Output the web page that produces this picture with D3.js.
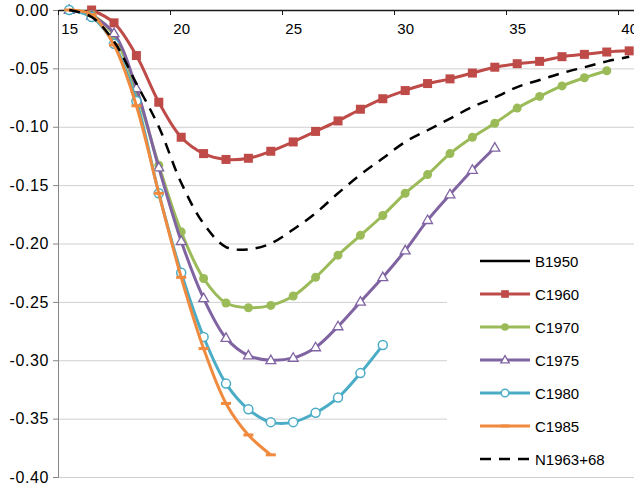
<!DOCTYPE html>
<html>
<head>
<meta charset="utf-8">
<script src="https://cdn.jsdelivr.net/npm/d3@7"></script>
<style>
  body { margin: 0; background: #fff; }
  svg text { font-family: "Liberation Sans", Arial, sans-serif; fill: #000; }
</style>
</head>
<body>
<svg id="chart" width="634" height="485"></svg>
<script>
// ages (categories) and series values, null = no point
const ages = [15, 16, 17, 18, 19, 20, 21, 22, 23, 24, 25, 26, 27, 28, 29, 30, 31, 32, 33, 34, 35, 36, 37, 38, 39, 40];
const b1950 = [];
const c1960 = [null, 0.000, -0.011, -0.039, -0.079, -0.109, -0.123, -0.128, -0.127, -0.121, -0.113, -0.104, -0.095,
  -0.085, -0.076, -0.069, -0.063, -0.059, -0.054, -0.049, -0.046, -0.044, -0.040, -0.038, -0.036, -0.035];
const c1970 = [0.000, -0.004, -0.022, -0.070, -0.133, -0.190, -0.230, -0.251, -0.255, -0.253, -0.245, -0.229, -0.210,
  -0.193, -0.176, -0.157, -0.141, -0.123, -0.109, -0.097, -0.084, -0.074, -0.065, -0.058, -0.052, null];
const c1975 = [0.000, -0.005, -0.020, -0.067, -0.135, -0.198, -0.247, -0.281, -0.296, -0.300, -0.298, -0.289, -0.271,
  -0.250, -0.229, -0.206, -0.180, -0.158, -0.137, -0.118, null, null, null, null, null, null];
const c1980 = [0.000, -0.006, -0.029, -0.078, -0.157, -0.225, -0.280, -0.320, -0.342, -0.353, -0.353, -0.345, -0.332,
  -0.311, -0.287, null, null, null, null, null, null, null, null, null, null, null];
const c1985 = [0.000, -0.004, -0.030, -0.082, -0.157, -0.229, -0.290, -0.337, -0.364, -0.381, null, null, null,
  null, null, null, null, null, null, null, null, null, null, null, null, null];
const n1963 = [0.000, -0.006, -0.027, -0.063, -0.100, -0.148, -0.183, -0.203, -0.205, -0.200, -0.188, -0.174, -0.157,
  -0.141, -0.127, -0.113, -0.103, -0.093, -0.083, -0.075, -0.066, -0.060, -0.054, -0.049, -0.044, -0.040];

const yTicks = [0, -0.05, -0.10, -0.15, -0.20, -0.25, -0.30, -0.35, -0.40];
const xLabels = [15, 20, 25, 30, 35, 40];
const xTickMarks = [14.5, 19.5, 24.5, 29.5, 34.5, 39.5];

const series = [
  { name: "B1950", values: b1950, color: "#000000", marker: "none" },
  { name: "C1960", values: c1960, color: "#be4b48", marker: "square" },
  { name: "C1970", values: c1970, color: "#9bbb59", marker: "dot" },
  { name: "C1975", values: c1975, color: "#8064a2", marker: "triangle" },
  { name: "C1980", values: c1980, color: "#4bacc6", marker: "circle" },
  { name: "C1985", values: c1985, color: "#f08a3e", marker: "dash" },
  { name: "N1963+68", values: n1963, color: "#000000", marker: "none", dashed: true }
];

const svg = d3.select("#chart");
const plotLeft = 58, plotTop = 10, plotBottom = 477;

const x = d3.scaleLinear().domain([14.5, 40.5]).range([plotLeft, plotLeft + 26 * 22.4]);
const y = d3.scaleLinear().domain([-0.40, 0]).range([plotBottom, plotTop]);

// gridlines
svg.append("g")
  .attr("transform", "translate(" + plotLeft + ",0)")
  .call(d3.axisLeft(y).tickValues(yTicks).tickSize(-(634 - plotLeft)).tickFormat(""))
  .call(g => g.select(".domain").remove())
  .selectAll("line").attr("stroke", "#d0d0d0");

// y axis
const yAxis = svg.append("g")
  .attr("transform", "translate(" + plotLeft + ",0)")
  .call(d3.axisLeft(y).tickValues(yTicks).tickSize(5).tickPadding(4).tickFormat(d => d.toFixed(2)));
yAxis.select(".domain").attr("stroke", "#868686");
yAxis.selectAll("line").attr("stroke", "#868686");
yAxis.selectAll("text").style("font-size", "16px").style("letter-spacing", "0.6px");

// x axis along 0 at the top
const xAxis = svg.append("g")
  .attr("transform", "translate(0," + plotTop + ")")
  .call(d3.axisBottom(x).tickValues(xTickMarks).tickSize(5).tickFormat("").tickSizeOuter(0));
xAxis.select(".domain").attr("stroke", "#1a1a1a").attr("stroke-width", 1.5);
xAxis.selectAll("line").attr("stroke", "#1a1a1a");

const xLab = svg.append("g")
  .attr("transform", "translate(0," + plotTop + ")")
  .call(d3.axisBottom(x).tickValues(xLabels).tickSize(0).tickPadding(13));
xLab.select(".domain").remove();
xLab.selectAll("text").style("font-size", "15px");

function drawMarker(g, type, color, cx, cy, s) {
  if (type === "square") {
    g.append("rect").attr("x", cx - 4.5 * s).attr("y", cy - 4.5 * s)
      .attr("width", 9 * s).attr("height", 9 * s).attr("fill", color);
  } else if (type === "dot") {
    g.append("circle").attr("cx", cx).attr("cy", cy).attr("r", 4.5 * s).attr("fill", color);
  } else if (type === "triangle") {
    g.append("path").attr("d", d3.symbol(d3.symbolTriangle, 42 * s * s)())
      .attr("transform", "translate(" + cx + "," + (cy + 0.5) + ")")
      .attr("fill", "#fff").attr("stroke", color).attr("stroke-width", 1.3);
  } else if (type === "circle") {
    g.append("circle").attr("cx", cx).attr("cy", cy).attr("r", 4.5 * s)
      .attr("fill", "#fff").attr("stroke", color).attr("stroke-width", 1.5);
  } else if (type === "dash") {
    g.append("rect").attr("x", cx - 5 * s).attr("y", cy - 1.5)
      .attr("width", 10 * s).attr("height", 3).attr("fill", color);
  }
}

const line = d3.line()
  .defined(d => d.v !== null)
  .x(d => x(d.a))
  .y(d => y(d.v))
  .curve(d3.curveCatmullRom);

series.forEach(s => {
  const pts = s.values.map((v, i) => ({ a: ages[i], v: v }));
  const g = svg.append("g");
  if (!pts.length) return;
  g.append("path")
    .attr("d", line(pts))
    .attr("fill", "none")
    .attr("stroke", s.color)
    .attr("stroke-width", s.dashed ? 2.5 : 3)
    .attr("stroke-dasharray", s.dashed ? "11,8" : null)
    .attr("stroke-linejoin", "round");
  pts.filter(p => p.v !== null).forEach(p => drawMarker(g, s.marker, s.color, x(p.a), y(p.v), 1));
});

// legend
const legend = svg.append("g");
legend.append("rect").attr("x", 447).attr("y", 250).attr("width", 187).attr("height", 222).attr("fill", "#fff");
series.forEach((s, i) => {
  const ly = 261 + i * 33;
  legend.append("line")
    .attr("x1", 480).attr("x2", 530).attr("y1", ly).attr("y2", ly)
    .attr("stroke", s.color)
    .attr("stroke-width", s.dashed || s.marker === "none" ? 2.5 : 3)
    .attr("stroke-dasharray", s.dashed ? "11,8" : null);
  drawMarker(legend, s.marker, s.color, 505, ly, 0.85);
  legend.append("text").attr("x", 535).attr("y", ly + 5.5)
    .style("font-size", "15px").text(s.name);
});
</script>
</body>
</html>
